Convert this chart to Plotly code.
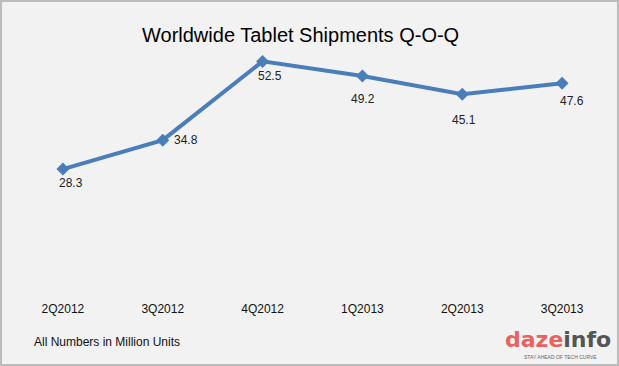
import plotly.graph_objects as go

quarters = ["2Q2012", "3Q2012", "4Q2012", "1Q2013", "2Q2013", "3Q2013"]
shipments = [28.3, 34.8, 52.5, 49.2, 45.1, 47.6]
label_text = ["28.3", "34.8", "52.5", "49.2", "45.1", "47.6"]

# label offsets in pixels (dx right, dy down) - styling, not data
label_dx = [8, 23, 7, 1, 2, 10]
label_dy = [14, 0, 15, 23, 26, 18]

W, H = 619, 366
ML, MR, MT, MB = 13, 7, 28, 71
PW, PH = W - ML - MR, H - MT - MB


def px(x):
    return (x - ML) / PW


def py(y):
    return (H - MB - y) / PH


FONT = "Liberation Sans, Arial, Helvetica, sans-serif"

fig = go.Figure()
fig.add_trace(go.Scatter(
    x=quarters, y=shipments, mode="lines+markers",
    line=dict(color="#4a7ebb", width=4),
    marker=dict(symbol="diamond", size=10, color="#4a7ebb"),
    hoverinfo="skip", showlegend=False,
))

annotations = []
for q, v, t, dx, dy in zip(quarters, shipments, label_text, label_dx, label_dy):
    annotations.append(dict(
        x=q, y=v, xref="x", yref="y", text=t, showarrow=False,
        xshift=dx, yshift=-dy, font=dict(family=FONT, size=12, color="#222222"),
        xanchor="center", yanchor="middle",
    ))

annotations.append(dict(
    x=px(300), y=py(35.5), xref="paper", yref="paper",
    text="Worldwide Tablet Shipments Q-O-Q", showarrow=False,
    font=dict(family=FONT, size=20, color="#000000"),
    xanchor="center", yanchor="middle",
))
annotations.append(dict(
    x=px(32), y=py(342), xref="paper", yref="paper",
    text="All Numbers in Million Units", showarrow=False,
    font=dict(family=FONT, size=12, color="#111111"),
    xanchor="left", yanchor="middle",
))
annotations.append(dict(
    x=px(558), y=py(339), xref="paper", yref="paper",
    text="<b><span style='color:#e8625f'>daz</span><span style='color:#e8625f'>e</span>"
         "<span style='color:#555555'>info</span></b>",
    showarrow=False,
    font=dict(family="DejaVu Sans, sans-serif", size=22),
    xanchor="center", yanchor="middle",
))
annotations.append(dict(
    x=px(560), y=py(357), xref="paper", yref="paper",
    text="STAY AHEAD OF TECH CURVE", showarrow=False,
    font=dict(family=FONT, size=5, color="#666666"),
    xanchor="center", yanchor="middle",
))

fig.update_layout(
    width=W, height=H,
    margin=dict(l=ML, r=MR, t=MT, b=MB, pad=0),
    paper_bgcolor="#f2f2f2", plot_bgcolor="#f2f2f2",
    annotations=annotations,
    shapes=[dict(
        type="rect", xref="paper", yref="paper",
        x0=px(1), x1=px(618), y0=py(365), y1=py(1),
        line=dict(color="#bcbcbc", width=2), fillcolor="rgba(0,0,0,0)", layer="above",
    )],
    xaxis=dict(
        type="category", range=[-0.5, 5.5], showgrid=False, zeroline=False,
        showline=False, ticks="", tickfont=dict(family=FONT, size=12, color="#111111"),
        ticklabelstandoff=5, fixedrange=True,
    ),
    yaxis=dict(
        range=[0, 60], showgrid=False, zeroline=False, showline=False,
        showticklabels=False, ticks="", fixedrange=True,
    ),
)

fig.write_html(
    "out.html",
    config={"displayModeBar": False},
    post_script="document.body.style.margin='0';document.body.style.overflow='hidden';",
)
